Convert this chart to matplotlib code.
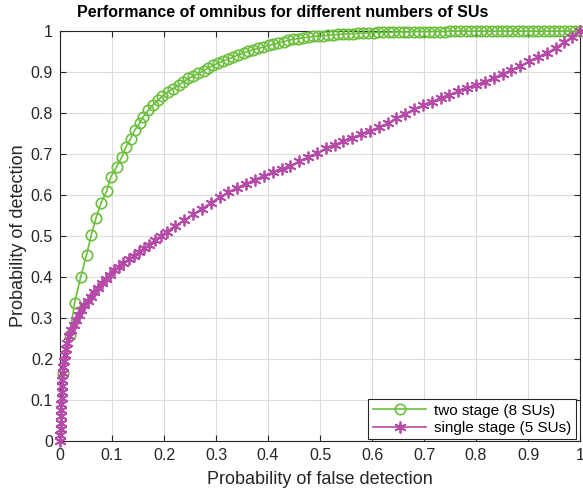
import matplotlib.pyplot as plt
import numpy as np

plt.rcParams['font.family'] = ['Liberation Sans', 'DejaVu Sans']

# two stage (8 SUs): ROC points
pf_two = [0.006, 0.019, 0.028, 0.040, 0.051, 0.060, 0.069, 0.079, 0.090, 0.098,
          0.109, 0.119, 0.127, 0.136, 0.144, 0.153, 0.160, 0.170, 0.179, 0.189,
          0.197, 0.208, 0.218, 0.228, 0.237, 0.247, 0.256, 0.266, 0.276, 0.285,
          0.295, 0.304, 0.314, 0.324, 0.333, 0.343, 0.353, 0.362, 0.372, 0.381,
          0.391, 0.401, 0.410, 0.420, 0.430, 0.439, 0.449, 0.458, 0.468, 0.477,
          0.487, 0.497, 0.506, 0.516, 0.525, 0.535, 0.545, 0.554, 0.564, 0.574,
          0.583, 0.593, 0.603, 0.612, 0.622, 0.632, 0.641, 0.651, 0.661, 0.670,
          0.680, 0.690, 0.700, 0.710, 0.720, 0.730, 0.740, 0.750, 0.760, 0.770,
          0.780, 0.790, 0.800, 0.810, 0.820, 0.830, 0.840, 0.850, 0.860, 0.870,
          0.880, 0.890, 0.900, 0.910, 0.920, 0.930, 0.940, 0.950, 0.960, 0.970,
          0.980, 0.990, 1.000]
pd_two = [0.165, 0.259, 0.337, 0.401, 0.454, 0.502, 0.543, 0.581, 0.610, 0.645,
          0.669, 0.693, 0.718, 0.738, 0.759, 0.775, 0.791, 0.807, 0.820, 0.832,
          0.841, 0.852, 0.860, 0.868, 0.876, 0.885, 0.890, 0.897, 0.903, 0.910,
          0.917, 0.922, 0.927, 0.932, 0.937, 0.942, 0.947, 0.951, 0.955, 0.958,
          0.961, 0.965, 0.968, 0.971, 0.974, 0.978, 0.980, 0.982, 0.984, 0.985,
          0.987, 0.988, 0.989, 0.990, 0.991, 0.992, 0.993, 0.994, 0.994, 0.995,
          0.995, 0.996, 0.996, 0.997, 0.997, 0.997, 0.998, 0.998, 0.998, 0.998,
          0.999, 0.999, 0.999, 0.999, 0.999, 0.999, 0.999, 1.000, 1.000, 1.000,
          1.000, 1.000, 1.000, 1.000, 1.000, 1.000, 1.000, 1.000, 1.000, 1.000,
          1.000, 1.000, 1.000, 1.000, 1.000, 1.000, 1.000, 1.000, 1.000, 1.000,
          1.000, 1.000, 1.000]

# single stage (5 SUs)
pf_one = [0.000, 0.0005, 0.001, 0.0013, 0.0016, 0.002, 0.0025, 0.003, 0.0035, 0.004,
          0.0045, 0.005, 0.006, 0.007, 0.009, 0.011, 0.014, 0.018, 0.022, 0.026,
          0.031, 0.036, 0.041, 0.047, 0.053, 0.059, 0.066, 0.073, 0.080, 0.088,
          0.096, 0.104, 0.113, 0.122, 0.132, 0.142, 0.152, 0.162, 0.172, 0.183,
          0.194, 0.205, 0.222, 0.239, 0.256, 0.273, 0.290, 0.307, 0.324, 0.341,
          0.358, 0.375, 0.392, 0.409, 0.426, 0.443, 0.460, 0.477, 0.494, 0.511,
          0.528, 0.545, 0.562, 0.579, 0.596, 0.613, 0.630, 0.647, 0.664, 0.681,
          0.698, 0.715, 0.732, 0.749, 0.766, 0.783, 0.800, 0.817, 0.834, 0.851,
          0.868, 0.885, 0.902, 0.919, 0.936, 0.953, 0.970, 0.985, 1.000]
pd_one = [0.000, 0.015, 0.030, 0.045, 0.060, 0.075, 0.090, 0.105, 0.120, 0.135,
          0.150, 0.165, 0.180, 0.195, 0.210, 0.225, 0.240, 0.255, 0.270, 0.283,
          0.296, 0.308, 0.319, 0.331, 0.342, 0.352, 0.363, 0.374, 0.385, 0.396,
          0.406, 0.416, 0.425, 0.434, 0.443, 0.452, 0.461, 0.470, 0.479, 0.491,
          0.500, 0.511, 0.525, 0.539, 0.553, 0.567, 0.581, 0.595, 0.607, 0.618,
          0.628, 0.638, 0.647, 0.656, 0.664, 0.672, 0.682, 0.692, 0.702, 0.714,
          0.723, 0.732, 0.740, 0.748, 0.756, 0.765, 0.775, 0.787, 0.799, 0.809,
          0.819, 0.828, 0.837, 0.845, 0.853, 0.861, 0.868, 0.877, 0.886, 0.896,
          0.905, 0.915, 0.926, 0.937, 0.947, 0.959, 0.973, 0.986, 1.000]

ticks = np.round(np.arange(0, 1.01, 0.1), 1)
tick_labels = ['0', '0.1', '0.2', '0.3', '0.4', '0.5', '0.6', '0.7', '0.8', '0.9', '1']

green = '#6bbf3c'
magenta = '#b64aa8'
dark = '#262626'

fig = plt.figure(figsize=(5.83, 4.92), dpi=100)
ax = fig.add_axes([0.1029, 0.1037, 0.892, 0.833])

ax.plot(pf_two, pd_two, '-o', color=green, mfc='none', ms=7.5, mew=1.2, lw=1.2,
        clip_on=False, zorder=3, label='two stage (8 SUs)')
ax.plot(pf_one, pd_one, '-', marker=(6, 2, 0), color=magenta, ms=8.5, mew=1.3, lw=1.2,
        clip_on=False, zorder=4, label='single stage (5 SUs)')

ax.set_xlim(0, 1)
ax.set_ylim(0, 1)
ax.set_xticks(ticks)
ax.set_yticks(ticks)
ax.set_xticklabels(tick_labels)
ax.set_yticklabels(tick_labels)
ax.tick_params(direction='in', length=4, width=0.8, colors=dark, labelsize=11.5,
               top=True, right=True, pad=5)
ax.grid(True, color='#dcdcdc', lw=0.8)
ax.set_axisbelow(True)
for s in ax.spines.values():
    s.set_color(dark)
    s.set_linewidth(0.8)

ax.set_title('Performance of omnibus for different numbers of SUs', x=0.429,
             fontsize=11.5, fontweight='bold', color='black', pad=10)
ax.set_xlabel('Probability of false detection', fontsize=13, color=dark, labelpad=6)
ax.set_ylabel('Probability of detection', fontsize=13, color=dark, labelpad=3)

leg = ax.legend(loc='lower right', bbox_to_anchor=(0.995, 0.0), fontsize=11,
                fancybox=False, edgecolor=dark, framealpha=1, handlelength=3.5,
                borderpad=0.3, labelspacing=0.2, handletextpad=0.5, borderaxespad=0.1)
leg.get_frame().set_linewidth(0.8)

fig.savefig('out.png', dpi=100)
